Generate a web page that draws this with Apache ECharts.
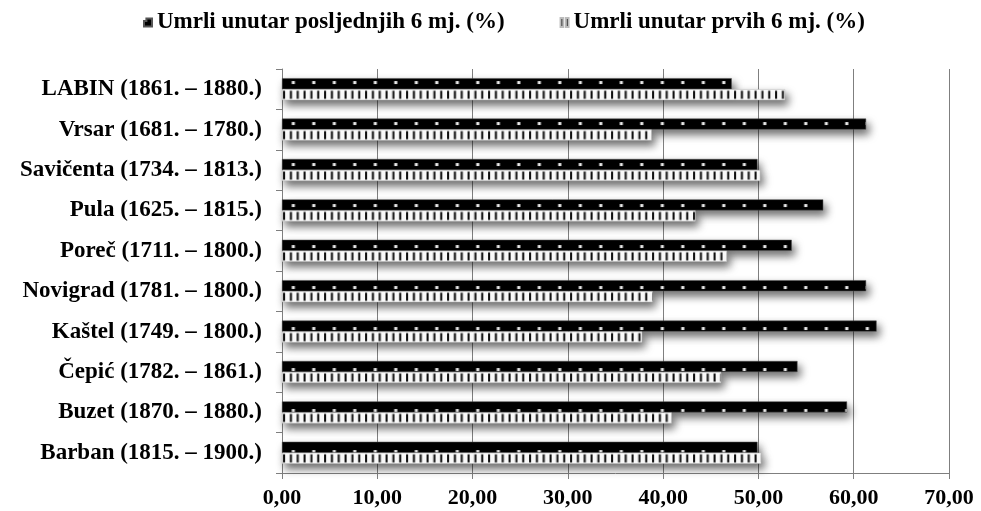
<!DOCTYPE html>
<html>
<head>
<meta charset="utf-8">
<script src="https://cdn.jsdelivr.net/npm/echarts@6/dist/echarts.min.js"></script>
<style>
html,body{margin:0;padding:0;background:#fff;}
#main{width:981px;height:511px;}
</style>
</head>
<body>
<div id="main"></div>
<script>
const categories = [
  'LABIN (1861. – 1880.)',
  'Vrsar (1681. – 1780.)',
  'Savičenta (1734. – 1813.)',
  'Pula (1625. – 1815.)',
  'Poreč (1711. – 1800.)',
  'Novigrad (1781. – 1800.)',
  'Kaštel (1749. – 1800.)',
  'Čepić (1782. – 1861.)',
  'Buzet (1870. – 1880.)',
  'Barban (1815. – 1900.)'
];
const seriesNames = ['Umrli unutar posljednjih 6 mj. (%)', 'Umrli unutar prvih 6 mj. (%)'];
const lastSixMonths  = [47.2, 61.3, 49.9, 56.8, 53.5, 61.3, 62.4, 54.1, 59.3, 49.9];
const firstSixMonths = [52.8, 38.8, 50.2, 43.4, 46.7, 38.9, 37.8, 46.1, 40.9, 50.3];
const xTicks = { min: 0, max: 70, interval: 10 };

const FONT = '"Liberation Serif", "Times New Roman", serif';

// pattern: black with white dots
function dotPattern() {
  const c = document.createElement('canvas');
  c.width = 20; c.height = 41;
  const g = c.getContext('2d');
  g.fillStyle = '#000';
  g.fillRect(0, 0, 20, 41);
  g.fillStyle = '#f2f2f2';
  g.fillRect(9.5, 19, 3, 3);
  return c;
}
// pattern: white with vertical black stripes
function stripePattern() {
  const c = document.createElement('canvas');
  c.width = 20; c.height = 40;
  const g = c.getContext('2d');
  g.fillStyle = '#fff';
  g.fillRect(0, 0, 20, 40);
  g.fillStyle = '#111';
  [1, 7.67, 14.33].forEach(x => g.fillRect(x, 21.5, 2, 8));
  return c;
}

const chart = echarts.init(document.getElementById('main'), null, { renderer: 'canvas' });
const blackFill = { image: dotPattern(), repeat: 'repeat', x: 282, y: 62, scaleX: 1.025, scaleY: 1 };
const stripeFill = { image: stripePattern(), repeat: 'repeat', x: 282, y: 69, scaleX: 1.025, scaleY: 1.01 };
const barShadow = { shadowColor: 'rgba(0,0,0,0.6)', shadowBlur: 8, shadowOffsetX: 3, shadowOffsetY: 5 };

chart.setOption({
  animation: false,
  backgroundColor: '#fff',
  legend: {
    left: 138,
    top: 6,
    itemGap: 55,
    itemWidth: 8,
    itemHeight: 10,
    textStyle: { fontFamily: FONT, fontWeight: 'bold', fontSize: 23, color: '#000' },
    data: [
      { name: seriesNames[0], icon: 'path://M0,3h3v-3h7v10h-10z', itemStyle: { color: '#000', shadowBlur: 0, shadowOffsetX: 0, shadowOffsetY: 0 } },
      { name: seriesNames[1], icon: 'path://M0,0h3v10h-3zM6,0h3v10h-3z', itemStyle: { color: '#000', shadowBlur: 0, shadowOffsetX: 0, shadowOffsetY: 0 } }
    ]
  },
  grid: { left: 282, right: 32, top: 69, bottom: 38, containLabel: false },
  xAxis: {
    type: 'value',
    min: xTicks.min, max: xTicks.max, interval: xTicks.interval,
    axisLine: { show: true, lineStyle: { color: '#7f7f7f', width: 1 } },
    axisTick: { show: true, length: 6, lineStyle: { color: '#7f7f7f' } },
    splitLine: { show: true, lineStyle: { color: '#7f7f7f', width: 1 } },
    axisLabel: {
      fontFamily: FONT, fontWeight: 'bold', fontSize: 22, color: '#000', margin: 14,
      formatter: v => v.toFixed(2).replace('.', ',')
    }
  },
  yAxis: {
    type: 'category',
    inverse: true,
    data: categories,
    axisLine: { show: true, lineStyle: { color: '#7f7f7f', width: 1 } },
    axisTick: { show: true, length: 6, lineStyle: { color: '#7f7f7f' } },
    splitLine: { show: false },
    axisLabel: { fontFamily: FONT, fontWeight: 'bold', fontSize: 23, color: '#000', margin: 20 }
  },
  series: [
    {
      name: seriesNames[0], type: 'bar', data: lastSixMonths,
      barWidth: 11, barGap: '0%',
      itemStyle: Object.assign({ color: blackFill, borderColor: '#555', borderWidth: 0.5 }, barShadow)
    },
    {
      name: seriesNames[1], type: 'bar', data: firstSixMonths,
      barWidth: 11, barGap: '0%',
      itemStyle: Object.assign({ color: stripeFill, borderColor: '#bbb', borderWidth: 0.5 }, barShadow)
    }
  ]
});
</script>
</body>
</html>
